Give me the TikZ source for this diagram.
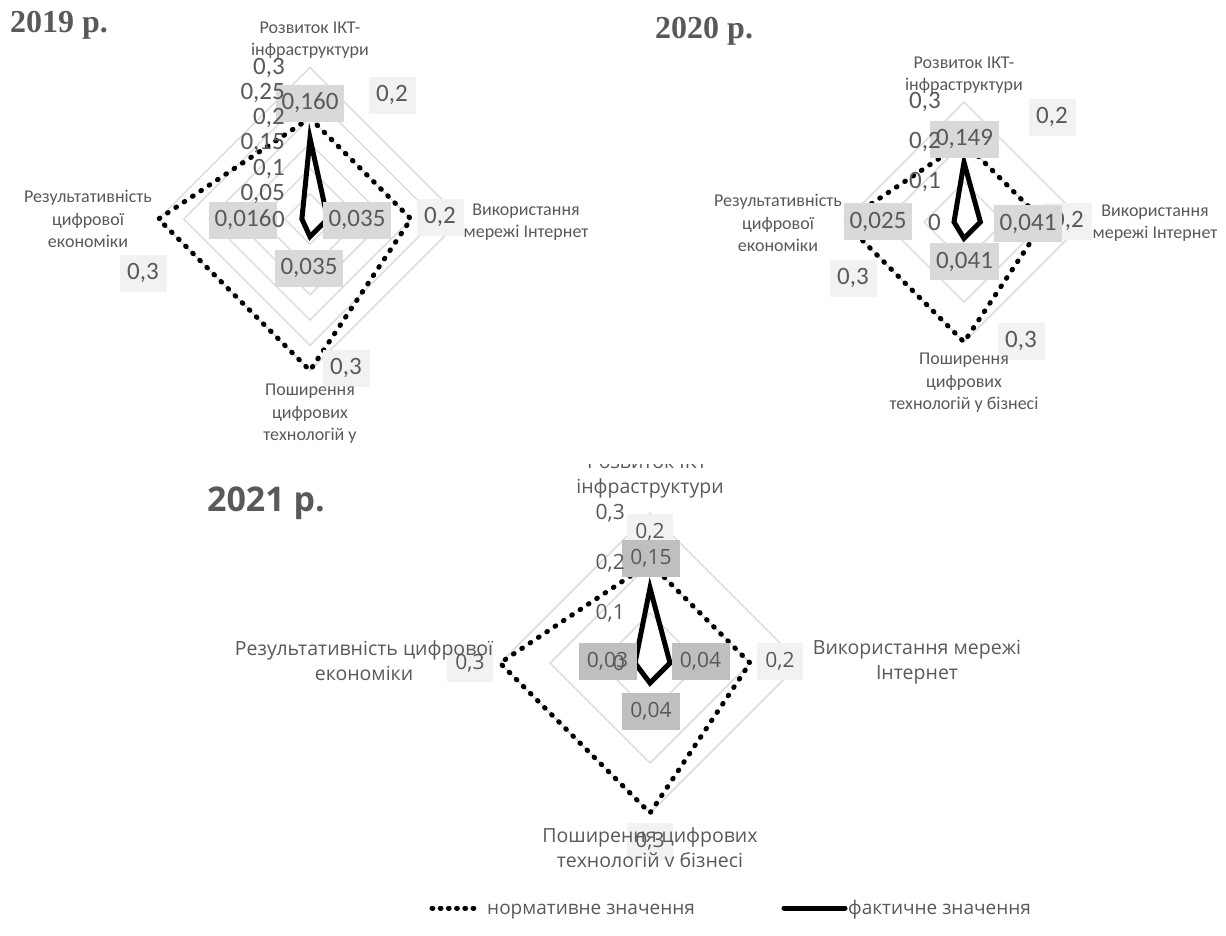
\documentclass[tikz,border=0pt]{standalone}
\usepackage{fontspec}
\setmainfont{Carlito}
\newfontfamily\osans{Open Sans}
\newfontfamily\tnr{Liberation Serif}
\definecolor{txt}{HTML}{595959}
\definecolor{gridc}{HTML}{D9D9D9}
\definecolor{valA}{HTML}{D9D9D9}
\definecolor{valB}{HTML}{BFBFBF}
\definecolor{normc}{HTML}{F2F2F2}
\tikzset{
  gridline/.style={draw=gridc, line width=1.4pt},
  normline/.style={draw=black, line width=5pt, line cap=round, dash pattern=on 0.8pt off 9.2pt},
  legdots/.style={draw=black, line width=5pt, line cap=round, dash pattern=on 0.8pt off 7.4pt},
  factline/.style={draw=black, line width=5pt, line join=miter},
  boxbase/.style={text=txt, minimum height=37pt, inner xsep=6pt, inner ysep=0pt},
  valbox/.style={boxbase, fill=valA, font=\fontsize{25}{30}\selectfont},
  normbox/.style={boxbase, fill=normc, font=\fontsize{25}{30}\selectfont, minimum width=47pt},
  valboxB/.style={boxbase, fill=valB, font=\osans\fontsize{21}{25}\selectfont, minimum width=58pt},
  normboxB/.style={boxbase, fill=normc, font=\osans\fontsize{21}{25}\selectfont, minimum width=46pt},
  ticklab/.style={text=txt, anchor=east, inner sep=0pt, font=\fontsize{25}{30}\selectfont},
  ticklabB/.style={text=txt, anchor=east, inner sep=0pt, font=\osans\fontsize{21}{25}\selectfont},
  catlab/.style={text=txt, align=center, inner sep=0pt, font=\fontsize{18}{22.5}\selectfont},
  catlabB/.style={text=txt, align=center, inner sep=0pt, font=\osans\fontsize{19.5}{25}\selectfont},
  legtext/.style={text=txt, anchor=base west, inner sep=0pt, font=\osans\fontsize{19}{23}\selectfont},
}
\begin{document}
\begin{tikzpicture}[x=1pt, y=-1pt]
\useasboundingbox (0,0) rectangle (1226,935);
\fill[white] (0,0) rectangle (1226,935);

% ================= 2019 =================
\node[text=txt, anchor=base west, inner sep=0pt, font=\tnr\bfseries\fontsize{32}{36}\selectfont] (t19) at (10,32) {2019 р.};
\foreach \i in {1,...,6} {
  \pgfmathsetmacro{\r}{25.25*\i}
  \draw[gridline] (310,219-\r) -- (310+\r,219) -- (310,219+\r) -- (310-\r,219) -- cycle;
}
\draw[normline] (310,118) -- (411,219) -- (310,370.5) -- (158.5,219) -- cycle;
\draw[factline] (310,138.2) -- (327.7,219) -- (310,236.7) -- (301.9,219) -- cycle;
\node[valbox] (a1) at (310,103) {0,160};
\node[valbox] (a2) at (243,220) {0,016};
\node[valbox] (a3) at (357,220) {0,035};
\node[valbox] (a4) at (309,268) {0,035};
\node[normbox] (a5) at (392,95) {0,2};
\node[normbox] (a6) at (440,217) {0,2};
\node[normbox] (a7) at (143,273) {0,3};
\node[normbox] (a8) at (346,368) {0,3};
\node[ticklab] (ta0) at (285,219) {0};
\node[ticklab] (ta1) at (285,193.75) {0,05};
\node[ticklab] (ta2) at (285,168.5) {0,1};
\node[ticklab] (ta3) at (285,143.25) {0,15};
\node[ticklab] (ta4) at (285,118) {0,2};
\node[ticklab] (ta5) at (285,92.75) {0,25};
\node[ticklab] (ta6) at (285,67.5) {0,3};
\node[catlab] (ca1) at (310,40) {Розвиток ІКТ-\\інфраструктури};
\node[catlab] (ca2) at (526,222) {Використання\\мережі Інтернет};
\node[catlab] (ca3) at (88,219) {Результативність\\цифрової\\економіки};
\node[catlab] (ca4) at (310,414) {Поширення\\цифрових\\технологій у};

% ================= 2020 =================
\node[text=txt, anchor=base west, inner sep=0pt, font=\tnr\bfseries\fontsize{32}{36}\selectfont] (t20) at (655,38) {2020 р.};
\foreach \i in {1,...,3} {
  \pgfmathsetmacro{\r}{40*\i}
  \draw[gridline] (964,222-\r) -- (964+\r,222) -- (964,222+\r) -- (964-\r,222) -- cycle;
}
\draw[normline] (964,142) -- (1044,222) -- (964,342) -- (844,222) -- cycle;
\draw[factline] (964,162.4) -- (980.4,222) -- (964,238.4) -- (954,222) -- cycle;
\node[normbox] (b5) at (1052,117) {0,2};
\node[normbox] (b6) at (1068,221) {0,2};
\node[valbox] (b1) at (964.5,139) {0,149};
\node[valbox] (b2) at (878,221.5) {0,025};
\node[valbox] (b3) at (1028,223.5) {0,041};
\node[valbox] (b4) at (964.5,261.5) {0,041};
\node[normbox] (b7) at (853,278) {0,3};
\node[normbox] (b8) at (1021,341) {0,3};
\node[ticklab] (tb0) at (941,222) {0};
\node[ticklab] (tb1) at (941,182) {0,1};
\node[ticklab] (tb2) at (941,142) {0,2};
\node[ticklab] (tb3) at (941,102) {0,3};
\node[catlab] (cb1) at (964,75) {Розвиток ІКТ-\\інфраструктури};
\node[catlab] (cb2) at (1155,223) {Використання\\мережі Інтернет};
\node[catlab] (cb3) at (778,223) {Результативність\\цифрової\\економіки};
\node[catlab] (cb4) at (964,383) {Поширення\\цифрових\\технологій у бізнесі};

% ================= 2021 =================
\node[text=txt, inner sep=0pt, font=\osans\bfseries\fontsize{34}{40}\selectfont] (t21) at (266,503) {2021 р.};
\foreach \i in {1,...,3} {
  \pgfmathsetmacro{\r}{50*\i}
  \draw[gridline] (650,663-\r) -- (650+\r,663) -- (650,663+\r) -- (650-\r,663) -- cycle;
}
\draw[normline] (650,563) -- (750,663) -- (650,813) -- (500,663) -- cycle;
\draw[factline] (650,588) -- (670,663) -- (650,683) -- (635,663) -- cycle;
\node[normboxB] (c5) at (650,532) {0,2};
\node[valboxB] (c1) at (651,558) {0,15};
\node[valboxB] (c2) at (607.5,661.5) {0,03};
\node[valboxB] (c3) at (700.5,661.5) {0,04};
\node[valboxB] (c4) at (651,711.5) {0,04};
\node[normboxB] (c6) at (780,661.5) {0,2};
\node[normboxB] (c7) at (470,663) {0,3};
\node[normboxB] (c8) at (650,841) {0,3};
\node[ticklabB] (tc0) at (625,663) {0};
\node[ticklabB] (tc1) at (625,613) {0,1};
\node[ticklabB] (tc2) at (625,563) {0,2};
\node[ticklabB] (tc3) at (625,513) {0,3};
\begin{scope}
  \clip (0,464) rectangle (1226,866);
  \node[catlabB] (cc1) at (650,476) {Розвиток ІКТ-\\інфраструктури};
  \node[catlabB] (cc4) at (650,850) {Поширення цифрових\\технологій у бізнесі};
\end{scope}
\node[catlabB] (cc2) at (917,662) {Використання мережі\\Інтернет};
\node[catlabB] (cc3) at (364,661) {Результативність цифрової\\економіки};

% ================= legend =================
\coordinate (l1a) at (432,908);
\coordinate (l1b) at (480,908);
\draw[legdots] (l1a) -- (l1b);
\node[legtext] (lt1) at (487,914) {нормативне значення};
\coordinate (l2a) at (784,908);
\coordinate (l2b) at (845,908);
\draw[black, line width=5pt, line cap=round] (l2a) -- (l2b);
\node[legtext] (lt2) at (848,914) {фактичне значення};
\end{tikzpicture}
\end{document}
